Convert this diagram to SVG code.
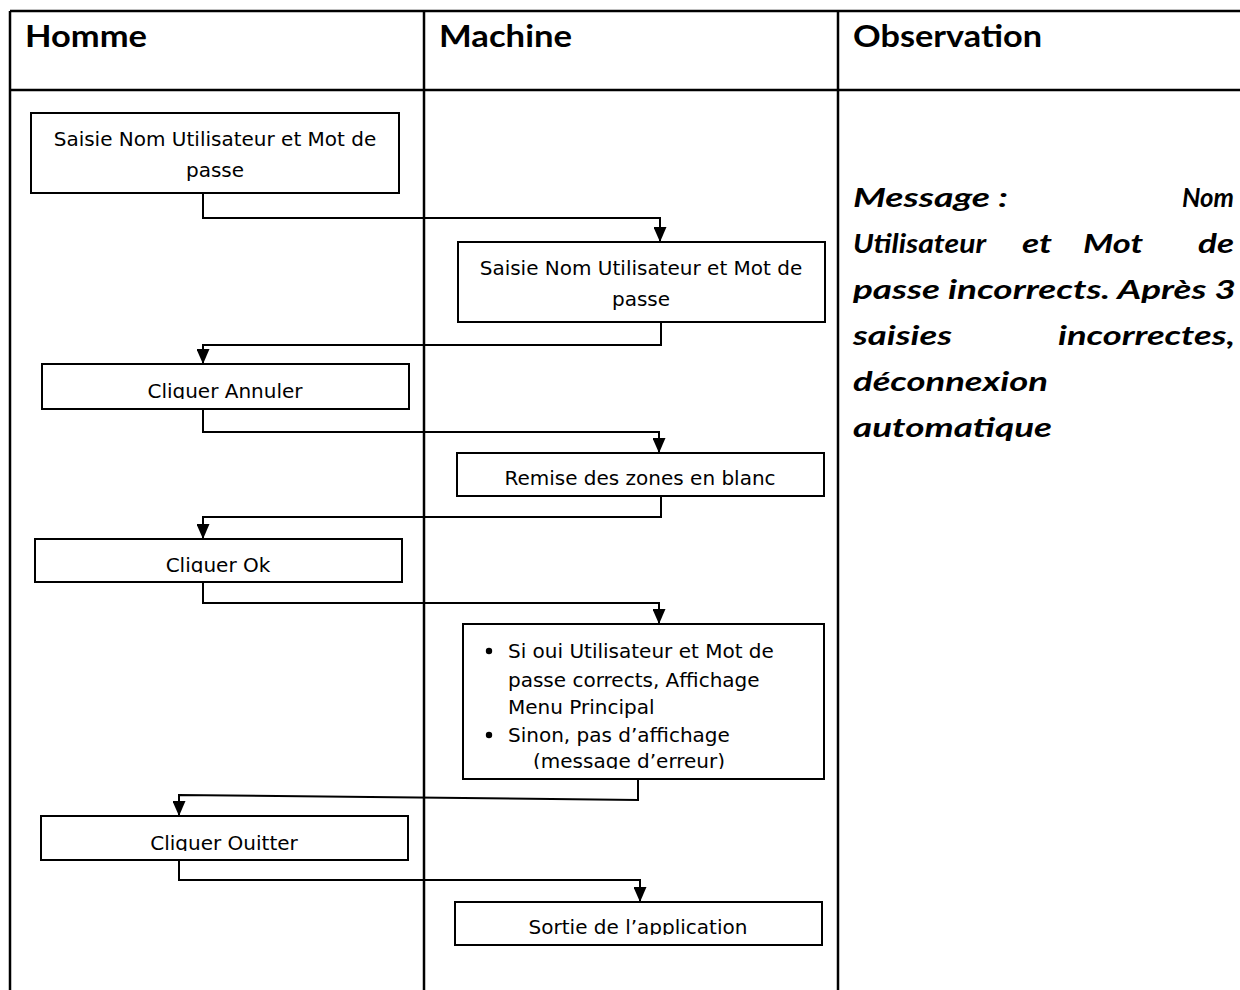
<svg xmlns="http://www.w3.org/2000/svg" width="1240" height="990" viewBox="0 0 1240 990">
<style>
.grid{stroke:#000;stroke-width:2.5;fill:none}
.box{fill:#fff;stroke:#000;stroke-width:2}
.conn{fill:none;stroke:#000;stroke-width:2}
.hdr{font-family:Lato,"Open Sans","Liberation Sans",sans-serif;font-weight:bold;font-size:30px;fill:#000}
.t{font-family:"DejaVu Sans","Liberation Sans",sans-serif;font-size:20px;fill:#000}
.obs{font-family:Lato,"Open Sans","Liberation Sans",sans-serif;font-weight:bold;font-style:italic;font-size:26px;fill:#000}
</style>
<defs>
<marker id="arr" markerUnits="userSpaceOnUse" markerWidth="15" markerHeight="13" refX="15" refY="6.5" orient="auto" viewBox="0 0 15 13">
<path d="M0,0 L15,6.5 L0,13 Z" fill="#000"/>
</marker>
<clipPath id="c3"><rect x="42" y="364" width="367" height="35"/></clipPath>
<clipPath id="c5"><rect x="35" y="539" width="367" height="34"/></clipPath>
<clipPath id="c6"><rect x="463" y="624" width="361" height="145"/></clipPath>
<clipPath id="c7"><rect x="41" y="816" width="367" height="35"/></clipPath>
<clipPath id="c8"><rect x="455" y="902" width="367" height="33"/></clipPath>
</defs>
<rect width="1240" height="990" fill="#fff"/>
<g id="table">
<line class="grid" x1="10" y1="11" x2="1240" y2="11"/>
<line class="grid" x1="10" y1="90" x2="1240" y2="90"/>
<line class="grid" x1="10" y1="11" x2="10" y2="990"/>
<line class="grid" x1="424" y1="11" x2="424" y2="990"/>
<line class="grid" x1="838" y1="11" x2="838" y2="990"/>
<text class="hdr" x="25" y="47" textLength="122" lengthAdjust="spacingAndGlyphs">Homme</text>
<text class="hdr" x="439" y="47" textLength="133" lengthAdjust="spacingAndGlyphs">Machine</text>
<text class="hdr" x="853" y="47" textLength="189" lengthAdjust="spacingAndGlyphs">Observation</text>
</g>
<g id="connectors">
<path class="conn" d="M203,194 V218 H660 V242" marker-end="url(#arr)"/>
<path class="conn" d="M661,322 V345 H203 V364" marker-end="url(#arr)"/>
<path class="conn" d="M203,410 V432 H659 V453" marker-end="url(#arr)"/>
<path class="conn" d="M661,496 V517 H203 V539" marker-end="url(#arr)"/>
<path class="conn" d="M203,583 V603 H659 V624" marker-end="url(#arr)"/>
<path class="conn" d="M638,775 V800 L179,795 V816" marker-end="url(#arr)"/>
<path class="conn" d="M179,860 V880 H640 V902" marker-end="url(#arr)"/>
</g>
<g id="n1">
<rect class="box" x="31" y="113" width="368" height="80"/>
<text class="t" x="215" y="146" text-anchor="middle">Saisie Nom Utilisateur et Mot de</text>
<text class="t" x="215" y="177" text-anchor="middle">passe</text>
</g>
<g id="n2">
<rect class="box" x="458" y="242" width="367" height="80"/>
<text class="t" x="641" y="275" text-anchor="middle">Saisie Nom Utilisateur et Mot de</text>
<text class="t" x="641" y="306" text-anchor="middle">passe</text>
</g>
<g id="n3">
<rect class="box" x="42" y="364" width="367" height="45"/>
<text class="t" x="225" y="398" text-anchor="middle" clip-path="url(#c3)">Cliquer Annuler</text>
</g>
<g id="n4">
<rect class="box" x="457" y="453" width="367" height="43"/>
<text class="t" x="640" y="485" text-anchor="middle">Remise des zones en blanc</text>
</g>
<g id="n5">
<rect class="box" x="35" y="539" width="367" height="43"/>
<text class="t" x="218" y="572" text-anchor="middle" clip-path="url(#c5)">Cliquer Ok</text>
</g>
<g id="n6">
<rect class="box" x="463" y="624" width="361" height="155"/>
<g clip-path="url(#c6)">
<circle cx="489" cy="651" r="3.2" fill="#000"/>
<text class="t" x="508" y="658">Si oui Utilisateur et Mot de</text>
<text class="t" x="508" y="687">passe corrects, Affichage</text>
<text class="t" x="508" y="714">Menu Principal</text>
<circle cx="489" cy="735" r="3.2" fill="#000"/>
<text class="t" x="508" y="742">Sinon, pas d’affichage</text>
<text class="t" x="533" y="768">(message d’erreur)</text>
</g>
</g>
<g id="n7">
<rect class="box" x="41" y="816" width="367" height="44"/>
<text class="t" x="224" y="850" text-anchor="middle" clip-path="url(#c7)">Cliquer Ouitter</text>
</g>
<g id="n8">
<rect class="box" x="455" y="902" width="367" height="43"/>
<text class="t" x="638" y="934" text-anchor="middle" clip-path="url(#c8)">Sortie de l’application</text>
</g>
<g id="observation">
<text class="obs" x="853" y="207" textLength="155" lengthAdjust="spacingAndGlyphs">Message :</text>
<text class="obs" x="1182" y="207" textLength="52" lengthAdjust="spacingAndGlyphs">Nom</text>
<text class="obs" x="853" y="253" textLength="133" lengthAdjust="spacingAndGlyphs">Utilisateur</text>
<text class="obs" x="1022" y="253" textLength="30" lengthAdjust="spacingAndGlyphs">et</text>
<text class="obs" x="1083" y="253" textLength="60" lengthAdjust="spacingAndGlyphs">Mot</text>
<text class="obs" x="1198" y="253" textLength="36" lengthAdjust="spacingAndGlyphs">de</text>
<text class="obs" x="853" y="299" textLength="383" lengthAdjust="spacingAndGlyphs">passe incorrects. Après 3</text>
<text class="obs" x="853" y="345" textLength="99" lengthAdjust="spacingAndGlyphs">saisies</text>
<text class="obs" x="1058" y="345" textLength="177" lengthAdjust="spacingAndGlyphs">incorrectes,</text>
<text class="obs" x="853" y="391" textLength="195" lengthAdjust="spacingAndGlyphs">déconnexion</text>
<text class="obs" x="853" y="437" textLength="199" lengthAdjust="spacingAndGlyphs">automatique</text>
</g>
</svg>
